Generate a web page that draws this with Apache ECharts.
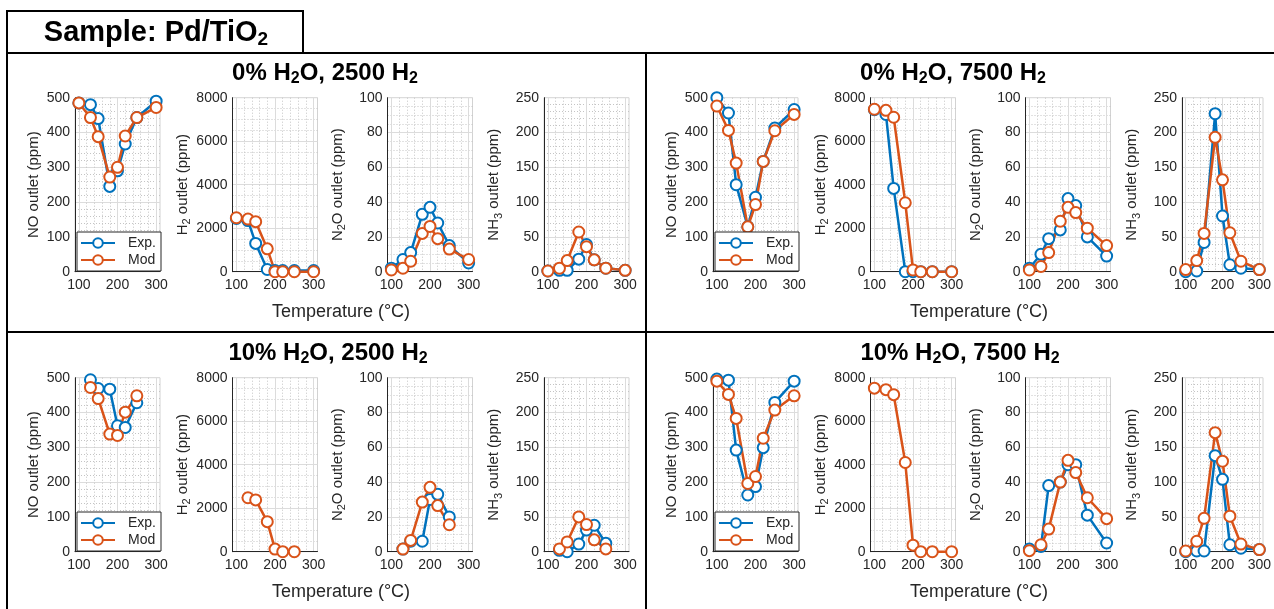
<!DOCTYPE html>
<html>
<head>
<meta charset="utf-8">
<script src="https://cdn.jsdelivr.net/npm/echarts@6/dist/echarts.min.js"></script>
<style>
  html, body { margin: 0; padding: 0; background: #fff; }
  #main { width: 1274px; height: 609px; }
</style>
</head>
<body>
<div id="main"></div>
<script>
  // temperatures (°C)
  var tempFull = [100, 130, 150, 180, 200, 220, 250, 300];
  var tempShort = [130, 150, 180, 200, 220, 250];

  // 0% H2O, 2500 H2
  var noExpA = [485, 480, 440, 245, 290, 367, 443, 490];
  var noModA = [485, 443, 388, 272, 300, 390, 443, 472];
  var h2ExpA = [2450, 2350, 1300, 100, 50, 50, 50, 50];
  var h2ModA = [2480, 2420, 2300, 1050, 0, 0, 0, 0];
  var n2oExpA = [2, 7, 11, 33, 37, 28, 15, 5];
  var n2oModA = [1, 2, 6, 22, 26, 19, 13, 7];
  var nh3ExpA = [1, 2, 2, 18, 39, 17, 5, 2];
  var nh3ModA = [1, 5, 16, 57, 36, 17, 5, 2];

  // 0% H2O, 7500 H2
  var noExpB = [500, 456, 250, 129, 214, 317, 413, 466];
  var noModB = [476, 406, 312, 129, 193, 317, 405, 452];
  var h2ExpB = [7450, 7230, 3830, 0, 0, 0, 0, 0];
  var h2ModB = [7470, 7420, 7100, 3170, 80, 0, 0, 0];
  var n2oExpB = [2, 10, 19, 24, 42, 38, 20, 9];
  var n2oModB = [1, 3, 11, 29, 37, 34, 25, 15];
  var nh3ExpB = [0, 1, 42, 227, 80, 10, 5, 3];
  var nh3ModB = [3, 16, 55, 193, 132, 56, 15, 3];

  // 10% H2O, 2500 H2 (no H2 measurement)
  var noExpC = [494, 469, 467, 362, 357, 428];
  var noModC = [472, 440, 338, 334, 401, 448];
  var h2ModC = [2480, 2380, 1380, 120, 0, 0];
  var n2oExpC = [1.5, 6, 6, 30, 33, 20];
  var n2oModC = [1.5, 6.5, 28.5, 37, 26.5, 15.5];
  var nh3ExpC = [2, 0, 11, 31, 38, 12];
  var nh3ModC = [4, 14, 50, 39, 17, 4];

  // 10% H2O, 7500 H2 (no H2 measurement)
  var noExpD = [496, 493, 292, 163, 187, 299, 429, 490];
  var noModD = [490, 452, 383, 196, 216, 326, 407, 448];
  var h2ModD = [7520, 7450, 7220, 4100, 300, 0, 0, 0];
  var n2oExpD = [1.5, 3, 38, 40, 50, 50, 21, 5];
  var n2oModD = [0.6, 4, 13, 40, 52.5, 45.5, 31, 19];
  var nh3ExpD = [0, 1, 1, 138, 104, 10, 5, 3];
  var nh3ModD = [1, 15, 48, 171, 130, 51, 11, 3];

  // axis settings per subplot column
  var yMax = [500, 8000, 100, 250];
  var yStep = [100, 2000, 20, 50];
  var yMinor = [5, 4, 4, 5];
  var yNames = [
    '{t|NO outlet (ppm)}',
    '{t|H}{s|2}{t| outlet (ppm)}',
    '{t|N}{s|2}{t|O outlet (ppm)}',
    '{t|NH}{s|3}{t| outlet (ppm)}'
  ];
  var xTicks = [100, 200, 300];

  var panels = [
    { dx: 0, dy: 0, temps: tempFull, title: '{b|0% H}{bs|2}{b|O, 2500 H}{bs|2}', tx: 325,
      data: [[noExpA, noModA], [h2ExpA, h2ModA], [n2oExpA, n2oModA], [nh3ExpA, nh3ModA]] },
    { dx: 638, dy: 0, temps: tempFull, title: '{b|0% H}{bs|2}{b|O, 7500 H}{bs|2}', tx: 953,
      data: [[noExpB, noModB], [h2ExpB, h2ModB], [n2oExpB, n2oModB], [nh3ExpB, nh3ModB]] },
    { dx: 0, dy: 280, temps: tempShort, title: '{b|10% H}{bs|2}{b|O, 2500 H}{bs|2}', tx: 328,
      data: [[noExpC, noModC], [null, h2ModC], [n2oExpC, n2oModC], [nh3ExpC, nh3ModC]] },
    { dx: 638, dy: 280, temps: tempFull, title: '{b|10% H}{bs|2}{b|O, 7500 H}{bs|2}', tx: 960,
      data: [[noExpD, noModD], [null, h2ModD], [n2oExpD, n2oModD], [nh3ExpD, nh3ModD]] }
  ];

  var plotLeft = [75, 232.5, 387.5, 544];
  var blue = '#0072BD';
  var orange = '#D95319';
  var ink = '#262626';
  var font = '"Liberation Sans", Arial, Helvetica, sans-serif';

  var grid = [], xAxis = [], yAxis = [], series = [], legend = [];
  var graphic = [];

  // colour cycles for x grid lines (ticks every 10 from 90)
  var majorX = [], minorX = [];
  for (var k = 0; k < 10; k++) {
    majorX.push(k === 1 ? '#dcdcdc' : 'rgba(0,0,0,0)');
    minorX.push(k % 2 === 1 && k !== 1 ? '#c4c4c4' : 'rgba(0,0,0,0)');
  }

  function pairs(xs, ys) {
    return xs.map(function (x, i) { return [x, ys[i]]; });
  }

  panels.forEach(function (p) {
    for (var j = 0; j < 4; j++) {
      var g = grid.length;
      grid.push({
        left: p.dx + plotLeft[j], top: 97.7 + p.dy, width: 85, height: 174,
        show: true, borderColor: '#d2d2d2', borderWidth: 1, backgroundColor: '#fff'
      });
      // visible x axis with labels, solid major grid
      xAxis.push({
        type: 'value', gridIndex: g, min: 90, max: 310, interval: 10, position: 'bottom',
        axisLine: { show: true, onZero: false, lineStyle: { color: ink, width: 1 } },
        axisTick: { show: false },
        axisLabel: {
          color: ink, fontSize: 14, fontFamily: font, margin: 6,
          formatter: function (v) { return xTicks.indexOf(v) >= 0 ? String(v) : ''; }
        },
        splitLine: { show: true, lineStyle: { color: majorX, width: 1 } }
      });
      // helper x axis for the dotted minor grid
      xAxis.push({
        type: 'value', gridIndex: g, min: 90, max: 310, interval: 10, position: 'top',
        axisLine: { show: false }, axisTick: { show: false }, axisLabel: { show: false },
        splitLine: { show: true, lineStyle: { color: minorX, width: 1, type: [1, 2] } }
      });
      yAxis.push({
        type: 'value', gridIndex: g, min: 0, max: yMax[j], interval: yStep[j],
        name: yNames[j], nameLocation: 'middle', nameGap: j === 0 ? 31 : 40, nameRotate: 90,
        nameTextStyle: {
          rich: {
            t: { fontSize: 15, fontFamily: font, color: ink, lineHeight: 20, verticalAlign: 'middle' },
            s: { fontSize: 11, fontFamily: font, color: ink, lineHeight: 10, verticalAlign: 'bottom' }
          }
        },
        axisLine: { show: true, lineStyle: { color: ink, width: 1 } },
        axisTick: { show: false },
        axisLabel: {
          color: ink, fontSize: 14, fontFamily: font, margin: 5,
          formatter: function (v) { return String(v); }
        },
        splitLine: { show: true, lineStyle: { color: '#dcdcdc', width: 1 } },
        minorTick: { show: false, splitNumber: yMinor[j] },
        minorSplitLine: { show: true, lineStyle: { color: '#c4c4c4', width: 1, type: [1, 2] } }
      });
      var pair = p.data[j];
      [[pair[0], 'Exp.', blue], [pair[1], 'Mod', orange]].forEach(function (s) {
        if (!s[0]) return;
        series.push({
          type: 'line', name: s[1], xAxisIndex: 2 * g, yAxisIndex: g,
          data: pairs(p.temps, s[0]),
          symbol: 'emptyCircle', symbolSize: 11, clip: false,
          lineStyle: { color: s[2], width: 2.5 },
          itemStyle: { color: s[2], borderColor: s[2], borderWidth: 2.5 },
          emphasis: { disabled: true }
        });
      });
    }

    legend.push({
      data: ['Exp.', 'Mod'], orient: 'vertical', selectedMode: false,
      left: p.dx + 77, top: p.dy + 232,
      itemWidth: 34, itemHeight: 12, itemGap: 3, padding: [4, 5, 4, 3],
      borderColor: ink, borderWidth: 1, backgroundColor: '#fff',
      textStyle: { fontSize: 14, fontFamily: font, color: ink, padding: [0, 0, 0, 8] }
    });

    graphic.push({
      type: 'text', x: p.tx, y: 73 + p.dy,
      style: {
        text: p.title, align: 'center', verticalAlign: 'middle',
        rich: {
          b: { fontSize: 24, fontWeight: 'bold', fontFamily: font, fill: '#000', lineHeight: 28, verticalAlign: 'middle' },
          bs: { fontSize: 16, fontWeight: 'bold', fontFamily: font, fill: '#000', lineHeight: 19, verticalAlign: 'bottom' }
        }
      }
    });
    graphic.push({
      type: 'text', x: p.dx + 341, y: 312 + p.dy,
      style: { text: 'Temperature (°C)', align: 'center', verticalAlign: 'middle', fontSize: 18, fontFamily: font, fill: ink }
    });
  });

  // frames
  graphic.push(
    { type: 'rect', shape: { x: 7, y: 11, width: 296, height: 42 }, style: { fill: 'none', stroke: '#000', lineWidth: 2 } },
    { type: 'line', shape: { x1: 7, y1: 53, x2: 1274, y2: 53 }, style: { stroke: '#000', lineWidth: 2 } },
    { type: 'line', shape: { x1: 7, y1: 53, x2: 7, y2: 609 }, style: { stroke: '#000', lineWidth: 2 } },
    { type: 'line', shape: { x1: 646, y1: 53, x2: 646, y2: 609 }, style: { stroke: '#000', lineWidth: 2 } },
    { type: 'line', shape: { x1: 7, y1: 332, x2: 1274, y2: 332 }, style: { stroke: '#000', lineWidth: 2 } },
    {
      type: 'text', x: 156, y: 33,
      style: {
        text: '{b|Sample: Pd/TiO}{bs|2}', align: 'center', verticalAlign: 'middle',
        rich: {
          b: { fontSize: 29, fontWeight: 'bold', fontFamily: font, fill: '#000', lineHeight: 32, verticalAlign: 'middle' },
          bs: { fontSize: 19, fontWeight: 'bold', fontFamily: font, fill: '#000', lineHeight: 22, verticalAlign: 'bottom' }
        }
      }
    }
  );

  var chart = echarts.init(document.getElementById('main'));
  chart.setOption({
    animation: false,
    backgroundColor: '#fff',
    grid: grid,
    xAxis: xAxis,
    yAxis: yAxis,
    legend: legend,
    series: series,
    graphic: graphic
  });
</script>
</body>
</html>
